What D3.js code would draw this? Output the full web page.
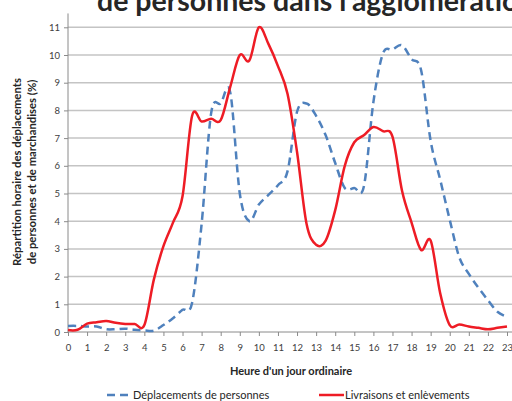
<!DOCTYPE html>
<html>
<head>
<meta charset="utf-8">
<script src="https://cdnjs.cloudflare.com/ajax/libs/d3/7.8.5/d3.min.js"></script>
<style>
  body { margin: 0; background: #fff; }
  svg { display: block; font-family: Lato, "Open Sans", sans-serif; }
</style>
</head>
<body>
<svg class="chart" width="512" height="401"></svg>
<script>
//hours of the day (half hour steps)
var hours = [0, 0.5, 1, 1.5, 2, 2.5, 3, 3.5, 4, 4.5, 5, 5.5, 6, 6.5, 7, 7.5, 8, 8.5, 9, 9.5,
    10, 10.5, 11, 11.5, 12, 12.5, 13, 13.5, 14, 14.5, 15, 15.5, 16, 16.5, 17, 17.5, 18, 18.5,
    19, 19.5, 20, 20.5, 21, 21.5, 22, 22.5, 23];

//Déplacements de personnes (%)
var personnes = [0.22, 0.22, 0.2, 0.2, 0.1, 0.1, 0.12, 0.08, 0.06, 0.05, 0.25, 0.5, 0.8, 1.05,
    3.9, 7.9, 8.25, 8.65, 5.0, 4.0, 4.6, 4.95, 5.3, 5.8, 7.95, 8.25, 7.8, 7.1, 6.1, 5.2, 5.2, 5.25,
    8.3, 10.05, 10.2, 10.35, 9.85, 9.45, 6.9, 5.5, 4.05, 2.7, 2.1, 1.6, 1.15, 0.73, 0.55];

//Livraisons et enlèvements (%)
var livraisons = [0.07, 0.08, 0.3, 0.35, 0.4, 0.33, 0.29, 0.29, 0.25, 1.9, 3.1, 3.95, 4.9, 7.8,
    7.6, 7.7, 7.65, 8.85, 10.0, 9.8, 11.0, 10.4, 9.6, 8.6, 6.5, 3.9, 3.15, 3.3, 4.4, 6.0, 6.85,
    7.1, 7.4, 7.25, 7.05, 5.1, 3.95, 2.96, 3.3, 1.4, 0.25, 0.27, 0.2, 0.15, 0.1, 0.15, 0.2];

var xTicks = d3.range(0, 24);
var yTicks = d3.range(0, 12);

var title = "de personnes dans l'agglomération";
var yTitle = ["Répartition horaire des déplacements", "de personnes et de marchandises (%)"];
var xTitle = "Heure d'un jour ordinaire";
var seriesNames = ["Déplacements de personnes", "Livraisons et enlèvements"];

var svg = d3.select(".chart");

var x = d3.scaleLinear().domain([0, 23]).range([68, 507]);
var y = d3.scaleLinear().domain([0, 11.5]).range([332, 332 - 11.5 * 27.7]);

//title, cut at the top like the original
svg.append("text")
    .attr("x", 97)
    .attr("y", 11)
    .attr("font-size", 28.5)
    .attr("font-weight", "bold")
    .attr("fill", "#262626")
    .text(title);

//grid lines
svg.append("g")
    .selectAll("line")
    .data(yTicks.slice(1))
    .enter().append("line")
    .attr("x1", x(0))
    .attr("x2", 512)
    .attr("y1", function (d) { return y(d); })
    .attr("y2", function (d) { return y(d); })
    .attr("stroke", "#c4c4c4")
    .attr("stroke-width", 1.5);

//y axis
var yAxis = svg.append("g")
    .attr("transform", "translate(" + x(0) + ",0)")
    .call(d3.axisLeft(y).tickValues(yTicks).tickSize(4).tickPadding(4));
yAxis.select(".domain").attr("d", "M0," + y(11.5) + "V" + y(0)).attr("stroke", "#8a8a8a");

//x axis
var xAxis = svg.append("g")
    .attr("transform", "translate(0," + y(0) + ")")
    .call(d3.axisBottom(x).tickValues(xTicks).tickSize(4).tickPadding(8));
xAxis.select(".domain").attr("d", "M" + x(0) + ",0H512").attr("stroke", "#8a8a8a");

svg.selectAll(".tick line").attr("stroke", "#8a8a8a");
svg.selectAll(".tick text")
    .attr("font-family", "Lato, sans-serif")
    .attr("font-size", 9.5)
    .attr("fill", "#404040");

//lines
var line = d3.line()
    .x(function (d) { return x(d[0]); })
    .y(function (d) { return y(d[1]); })
    .curve(d3.curveCatmullRom.alpha(0));

svg.append("path")
    .datum(d3.zip(hours, personnes))
    .attr("d", line)
    .attr("fill", "none")
    .attr("stroke", "#4f81bd")
    .attr("stroke-width", 2.5)
    .attr("stroke-dasharray", "8,5");

svg.append("path")
    .datum(d3.zip(hours, livraisons))
    .attr("d", line)
    .attr("fill", "none")
    .attr("stroke", "#ee1c25")
    .attr("stroke-width", 2.5);

//axis titles
svg.append("text")
    .attr("transform", "translate(21,172) rotate(-90)")
    .attr("text-anchor", "middle")
    .attr("font-size", 11.3)
    .attr("font-weight", "bold")
    .attr("fill", "#262626")
    .selectAll("tspan")
    .data(yTitle)
    .enter().append("tspan")
    .attr("x", 0)
    .attr("dy", function (d, i) { return i == 0 ? 0 : 15; })
    .text(function (d) { return d; });

svg.append("text")
    .attr("x", 291)
    .attr("y", 375)
    .attr("text-anchor", "middle")
    .attr("font-size", 11)
    .attr("font-weight", "bold")
    .attr("fill", "#262626")
    .text(xTitle);

//legend
var legend = svg.append("g");
var legX = [107, 319];
var legColors = ["#4f81bd", "#ee1c25"];

legend.selectAll("line")
    .data(seriesNames)
    .enter().append("line")
    .attr("x1", function (d, i) { return legX[i]; })
    .attr("x2", function (d, i) { return legX[i] + 25; })
    .attr("y1", 395)
    .attr("y2", 395)
    .attr("stroke", function (d, i) { return legColors[i]; })
    .attr("stroke-width", 2.5)
    .attr("stroke-dasharray", function (d, i) { return i == 0 ? "8,5" : null; });

legend.selectAll("text")
    .data(seriesNames)
    .enter().append("text")
    .attr("x", function (d, i) { return legX[i] + 26; })
    .attr("y", 399)
    .attr("font-size", 11)
    .attr("fill", "#262626")
    .text(function (d) { return d; });
</script>
</body>
</html>
